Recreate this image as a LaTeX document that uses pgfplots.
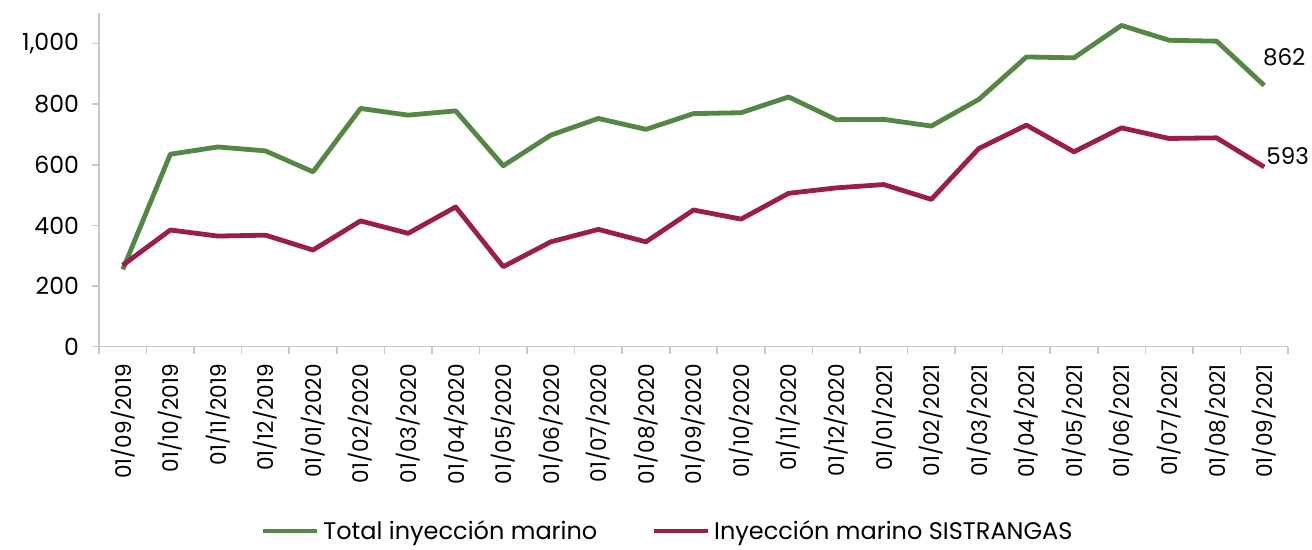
\documentclass[border=0pt]{standalone}
\usepackage{fontspec}
\setmainfont{Poppins}
\usepackage{pgfplots}
\pgfplotsset{compat=1.18}
\definecolor{cgreen}{RGB}{84,135,68}
\definecolor{cred}{RGB}{155,30,70}
\definecolor{caxis}{RGB}{200,200,200}
\begin{document}
\begin{tikzpicture}
\useasboundingbox (-49.5pt,-101.65pt) rectangle (606.5pt,173.35pt);
\begin{axis}[
  scale only axis,
  width=594.5pt, height=166.7pt,
  xmin=-0.5, xmax=24.5,
  ymin=0, ymax=1100,
  axis x line*=bottom, axis y line*=left,
  axis line style={caxis, line width=0.8pt},
  xtick={0,...,24},
  xticklabels={01/09/2019,01/10/2019,01/11/2019,01/12/2019,01/01/2020,01/02/2020,01/03/2020,01/04/2020,01/05/2020,01/06/2020,01/07/2020,01/08/2020,01/09/2020,01/10/2020,01/11/2020,01/12/2020,01/01/2021,01/02/2021,01/03/2021,01/04/2021,01/05/2021,01/06/2021,01/07/2021,01/08/2021,01/09/2021},
  x tick label style={rotate=90, anchor=east, font=\fontsize{10.8}{12}\selectfont, inner sep=1pt, xshift=-4pt},
  major x tick style={draw=none},
  minor xtick={-0.5,0.5,...,24.5},
  minor tick length=3.5pt,
  minor x tick style={caxis, line width=0.8pt},
  ytick={0,200,...,1000},
  major tick length=3.5pt,
  tick align=outside,
  y tick style={caxis, line width=0.8pt},
  y tick label style={font=\fontsize{11.8}{13}\selectfont, xshift=-3pt},
  /pgf/number format/assume math mode=true,
  /pgf/number format/1000 sep={,},
  clip=false,
  legend columns=2,
  legend style={at={(axis description cs:0.479,-0.553)}, anchor=center, draw=none, fill=none,
    font=\fontsize{12}{13}\selectfont, column sep=0pt, inner sep=1pt,
    /tikz/every even column/.append style={column sep=25pt}},
  legend image code/.code={\draw[#1, line width=2.4pt] (0pt,0pt) -- (27pt,0pt);},
]
\addplot[cgreen, line width=2.4pt, line join=round] coordinates {
(0,255) (1,635) (2,659) (3,646) (4,577) (5,786) (6,764) (7,778) (8,597) (9,698)
(10,753) (11,717) (12,769) (13,772) (14,824) (15,749) (16,750) (17,728) (18,816) (19,956)
(20,953) (21,1060) (22,1011) (23,1008) (24,862)};
\addlegendentry{Total inyección marino}
\addplot[cred, line width=2.4pt, line join=round] coordinates {
(0,269) (1,385) (2,365) (3,368) (4,319) (5,415) (6,374) (7,461) (8,264) (9,346)
(10,387) (11,346) (12,451) (13,421) (14,506) (15,524) (16,535) (17,486) (18,654) (19,731)
(20,643) (21,722) (22,687) (23,689) (24,593)};
\addlegendentry{Inyección marino SISTRANGAS}
\node[font=\fontsize{11.5}{12}\selectfont, xshift=10pt, yshift=14.25pt] at (axis cs:24,862) {862};
\node[font=\fontsize{11.5}{12}\selectfont, xshift=11.75pt, yshift=5.5pt] at (axis cs:24,593) {593};
\end{axis}
\end{tikzpicture}
\end{document}
